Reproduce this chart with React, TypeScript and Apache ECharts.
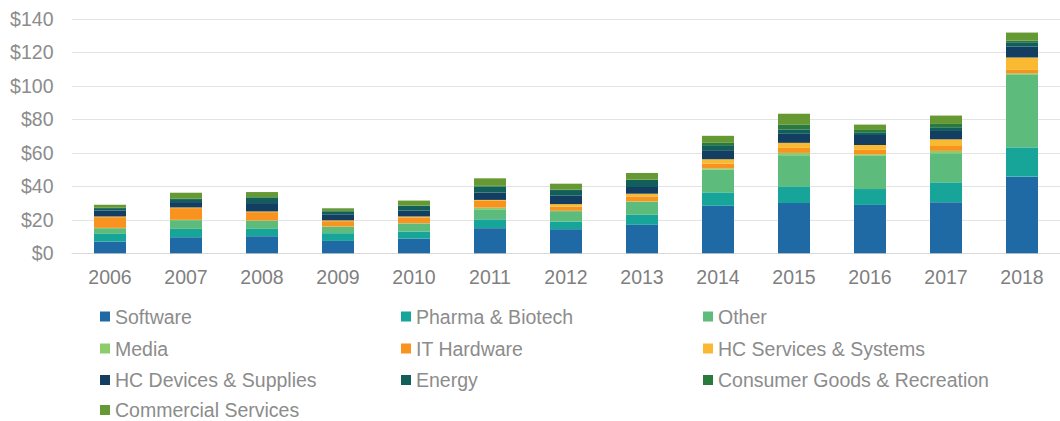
import React, { useEffect, useRef } from "react";
import * as echarts from "echarts";

const years = ["2006", "2007", "2008", "2009", "2010", "2011", "2012", "2013", "2014", "2015", "2016", "2017", "2018"];

const software = [7, 9.6, 10.2, 7.4, 8.8, 15, 14.4, 17, 28.4, 30, 28.9, 30.5, 45.8];
const pharma = [4.6, 5, 4.4, 4.6, 4.2, 5.3, 4.6, 6, 8, 10, 9.5, 11.9, 17.5];
const other = [3.4, 5.2, 4.8, 3.8, 4.8, 6, 6.2, 7.8, 13.6, 18.6, 19.8, 17.4, 43.3];
const media = [0.2, 0.2, 0.2, 0.2, 0.2, 1, 0.2, 0.2, 0.8, 1.4, 1, 1.4, 1];
const itHardware = [6.4, 7, 5, 3.2, 3.5, 4, 2.5, 3, 2.8, 3, 2.6, 2.9, 2];
const hcServices = [0.4, 0.4, 0.4, 0.5, 0.5, 0.6, 1.5, 1.6, 2.6, 3, 2.9, 4, 7.4];
const hcDevices = [3.6, 3.2, 5, 3.6, 3.5, 4.4, 5, 4, 5.4, 5.4, 6, 5, 6.5];
const energy = [1.4, 1.8, 3.4, 1.8, 2.8, 3.6, 3.4, 4.2, 3, 2.6, 1.6, 2.2, 2.6];
const consumerGoods = [0.2, 0.4, 0.2, 0.2, 0.2, 0.4, 0.2, 0.2, 1.4, 3, 1.4, 2, 1];
const commercial = [1.8, 3.4, 3, 1.6, 3, 4.5, 3.6, 4, 4.2, 6.4, 3.2, 5, 4.8];

const seriesNames = [
  "Software",
  "Pharma & Biotech",
  "Other",
  "Media",
  "IT Hardware",
  "HC Services & Systems",
  "HC Devices & Supplies",
  "Energy",
  "Consumer Goods & Recreation",
  "Commercial Services",
];
const seriesData = [software, pharma, other, media, itHardware, hcServices, hcDevices, energy, consumerGoods, commercial];
const colors = ["#1f6aa5", "#17a59a", "#5dbb7c", "#8ccc6a", "#f7931e", "#f9b930", "#143d62", "#115e5a", "#2a7a3e", "#669933"];

// legend placement: 3 columns, rows in reading order
const legendColLefts = [100, 401, 703];
const legendRowCenters = [315.5, 347.5, 379, 409];

const FONT = "'Liberation Sans', Arial, Helvetica, sans-serif";

export default function App() {
  const ref = useRef<HTMLDivElement>(null);
  useEffect(() => {
    if (!ref.current) return;
    const chart = echarts.init(ref.current, undefined, { renderer: "svg" });
    chart.setOption({
      animation: false,
      color: colors,
      grid: { left: 72, top: 19, width: 1001, height: 234.3, containLabel: false },
      legend: seriesNames.map((name, i) => ({
        data: [name],
        left: legendColLefts[i % 3],
        top: legendRowCenters[Math.floor(i / 3)] - 9,
        padding: 0,
        itemWidth: 10,
        itemHeight: 10,
        icon: "rect",
        selectedMode: false,
        textStyle: { fontFamily: FONT, fontSize: 19.5, color: "#8c8c8c", lineHeight: 18 },
      })),
      xAxis: {
        type: "category",
        data: years,
        axisLine: { show: true, lineStyle: { color: "#d9d9d9", width: 1 } },
        axisTick: { show: false },
        axisLabel: { fontFamily: FONT, fontSize: 19.5, color: "#7f7f7f", margin: 14 },
      },
      yAxis: {
        type: "value",
        min: 0,
        max: 140,
        interval: 20,
        axisLine: { show: false },
        axisTick: { show: false },
        splitLine: { lineStyle: { color: "#e3e3e3", width: 1 } },
        axisLabel: {
          fontFamily: FONT,
          fontSize: 19.5,
          color: "#8c8c8c",
          margin: 18.5,
          formatter: (v: number) => "$" + v,
        },
      },
      series: seriesNames.map((name, i) => ({
        name,
        type: "bar",
        stack: "total",
        barWidth: 32,
        data: seriesData[i],
        itemStyle: { color: colors[i] },
      })),
    });
    return () => chart.dispose();
  }, []);
  return <div ref={ref} style={{ position: "absolute", left: 0, top: 0, width: 1060, height: 421 }} />;
}
